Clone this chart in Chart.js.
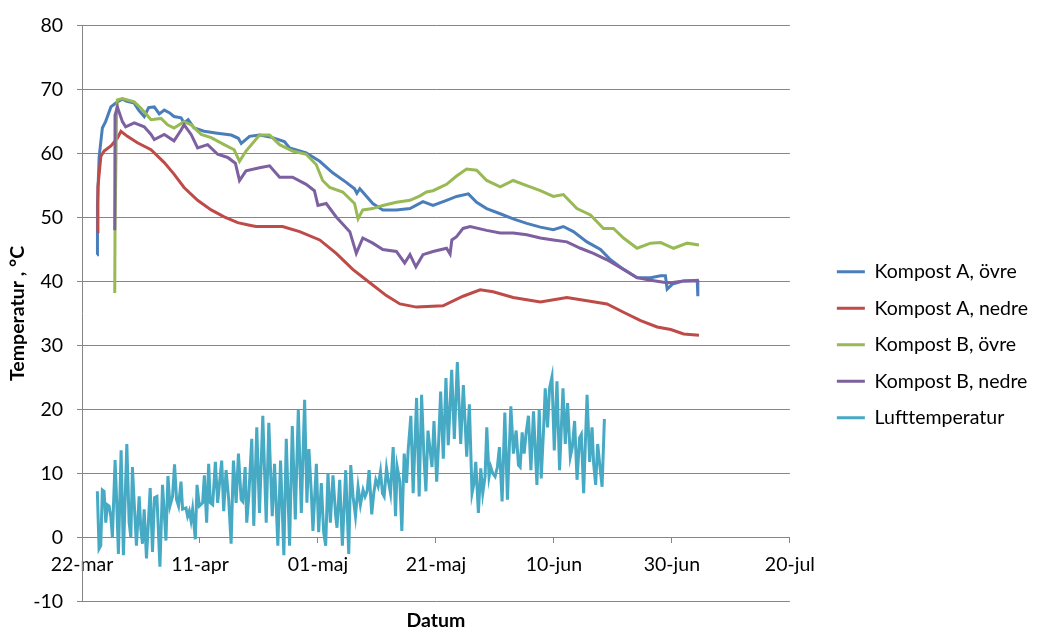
<!DOCTYPE html>
<html>
<head>
<meta charset="utf-8">
<script src="https://cdn.jsdelivr.net/npm/chart.js@4.4.0/dist/chart.umd.min.js"></script>
<style>
  html, body { margin: 0; padding: 0; background: #fff; }
</style>
</head>
<body>
<canvas id="tempChart" width="1038" height="627"></canvas>
<script>
// dagar räknat från 22-mar, temperatur i °C
const xEtiketter = ['22-mar', '11-apr', '01-maj', '21-maj', '10-jun', '30-jun', '20-jul'];
const serieNamn = ['Kompost A, övre', 'Kompost A, nedre', 'Kompost B, övre', 'Kompost B, nedre', 'Lufttemperatur'];

const kompostAOvre = [
  [2.55, 44.2], [2.62, 52], [2.9, 59.4], [3.45, 64], [4.0, 65], [4.9, 67.3], [6.0, 68.1], [6.85, 68.5],
  [7.5, 68.2], [8.85, 67.9], [9.6, 66.8], [10.55, 65.8], [11.3, 67.2], [12.25, 67.3], [13.1, 66.2],
  [13.95, 66.8], [14.8, 66.4], [15.6, 65.8], [16.8, 65.6], [17.3, 64.8], [18.0, 65.3], [19.0, 64],
  [20.7, 63.5], [22.95, 63.2], [25.3, 62.9], [26.5, 62.4], [27.0, 61.6], [28.4, 62.7], [30.1, 62.9],
  [32.3, 62.5], [34.3, 61.9], [35.2, 60.9], [38.0, 60.1], [40.3, 58.8], [42.5, 57], [44.8, 55.5],
  [46.2, 54.5], [46.6, 53.8], [47.1, 54.5], [49.3, 52.2], [51.0, 51.2], [53.3, 51.2], [55.6, 51.4],
  [57.8, 52.5], [59.5, 51.9], [61.8, 52.7], [63.5, 53.3], [65.5, 53.7], [66.9, 52.4], [68.6, 51.4],
  [70.9, 50.6], [73.1, 49.8], [75.4, 49.1], [77.7, 48.5], [79.9, 48.1], [81.6, 48.6], [83.3, 47.8],
  [85.6, 46.2], [87.9, 45], [89.6, 43.4], [91.8, 41.9], [94.1, 40.6], [96.4, 40.6], [98.1, 40.9],
  [98.9, 40.9], [99.2, 38.8], [100.1, 39.6], [102.0, 40.1], [104.3, 40.2], [104.4, 37.7]
];

const kompostANedre = [
  [2.55, 47.8], [2.7, 54.8], [3.2, 59.6], [3.75, 60.4], [4.9, 61.2], [6.0, 62.4], [6.6, 63.5],
  [7.7, 62.7], [9.4, 61.7], [11.7, 60.6], [13.95, 58.6], [15.6, 56.8], [17.3, 54.7], [19.6, 52.7],
  [21.9, 51.2], [24.1, 50.1], [26.4, 49.2], [28.4, 48.8], [29.5, 48.6], [34.0, 48.6], [36.9, 47.8],
  [40.3, 46.5], [43.1, 44.4], [45.9, 41.9], [48.8, 39.8], [51.6, 37.8], [53.9, 36.5], [56.7, 36],
  [61.2, 36.2], [64.6, 37.7], [67.5, 38.7], [69.7, 38.4], [73.1, 37.5], [77.7, 36.8], [82.2, 37.5],
  [85.6, 37], [89.0, 36.5], [91.8, 35.2], [94.7, 33.9], [97.5, 32.9], [99.8, 32.5], [102.0, 31.8],
  [104.6, 31.6]
];

const kompostBOvre = [
  [5.55, 38.2], [5.6, 48], [5.85, 66], [6.0, 68.4], [6.85, 68.6], [8.85, 68.1], [10.0, 67.1],
  [11.7, 65.3], [13.4, 65.5], [14.5, 64.5], [15.6, 64], [17.3, 65], [18.5, 64.5], [20.2, 63],
  [21.9, 62.5], [24.1, 61.4], [25.8, 60.6], [26.7, 58.8], [27.8, 60.4], [30.1, 62.9], [31.8, 62.9],
  [33.5, 61.4], [35.7, 60.4], [38.0, 59.9], [39.7, 58.3], [40.8, 55.8], [42.0, 54.7], [44.2, 54],
  [46.2, 52.2], [46.8, 49.8], [47.6, 51.2], [49.3, 51.4], [51.0, 51.9], [53.3, 52.4], [55.6, 52.7],
  [57.3, 53.4], [58.4, 54], [59.5, 54.2], [61.8, 55.2], [63.5, 56.5], [65.2, 57.6], [66.9, 57.4],
  [68.6, 55.8], [70.9, 54.8], [73.1, 55.8], [75.4, 55], [77.7, 54.2], [79.9, 53.3], [81.6, 53.6],
  [83.9, 51.4], [86.2, 50.4], [88.4, 48.3], [90.1, 48.3], [91.8, 46.8], [94.1, 45.2], [96.4, 46],
  [98.1, 46.1], [100.3, 45.2], [102.6, 46], [104.6, 45.7]
];

const kompostBNedre = [
  [5.55, 48], [5.6, 66], [6.0, 67.3], [6.85, 65], [7.4, 64.2], [8.85, 64.8], [10.55, 64.2],
  [11.7, 63], [12.25, 62.2], [13.95, 63], [15.6, 62], [16.8, 63.7], [17.3, 64.5], [18.5, 63],
  [19.6, 60.9], [21.3, 61.4], [23.0, 59.9], [24.7, 59.4], [26.0, 58.5], [26.7, 55.8], [27.8, 57.3],
  [30.1, 57.8], [31.8, 58.1], [33.5, 56.3], [35.7, 56.3], [38.0, 55.2], [39.4, 54.2], [40.0, 51.9],
  [41.4, 52.2], [43.1, 50.1], [45.4, 47.8], [46.5, 44.4], [47.6, 46.8], [49.3, 46], [51.0, 45],
  [53.3, 44.7], [54.7, 42.9], [55.6, 44.2], [56.6, 42.3], [57.8, 44.2], [59.5, 44.7], [61.8, 45.2],
  [62.4, 44.3], [62.7, 46.5], [63.5, 47], [64.6, 48.3], [65.8, 48.6], [68.6, 48], [70.9, 47.6],
  [73.1, 47.6], [75.4, 47.3], [77.7, 46.8], [79.9, 46.5], [82.2, 46.2], [84.5, 45.2], [86.7, 44.4],
  [89.0, 43.4], [91.8, 41.9], [94.1, 40.6], [96.4, 40.2], [98.6, 39.9], [99.8, 39.8], [102.0, 40.1],
  [104.6, 40.1]
];

const lufttemperatur = [
  [2.60, 7.2], [2.89, -1.8], [3.18, -1.3], [3.45, 7.4], [3.74, 7.2], [4.03, 2.3], [4.30, 5.1],
  [4.59, 4.9], [4.88, 3.3], [5.15, 0], [5.61, 12.1], [5.83, 6.9], [6.17, -2.6], [6.63, 13.6],
  [7.02, -2.8], [7.60, 14.6], [7.99, 2.3], [8.28, 0], [8.55, 11], [8.84, 5.6], [9.23, -1.3],
  [9.69, 6.4], [9.98, 1.3], [10.25, -1], [10.54, 4.4], [10.93, -3.3], [11.56, 7.7], [11.95, -2.3],
  [12.29, 6.2], [12.70, 6.4], [13.21, -4.6], [13.65, 8.2], [14.23, -0.5], [14.57, 9.6], [14.91, 4.9],
  [15.35, 6.4], [15.69, 11.4], [16.03, 5.9], [16.37, 4.9], [16.78, 8.7], [17.05, 4.4], [17.63, 4.6],
  [17.90, 3.3], [18.19, 4.1], [18.48, 2.6], [18.75, 4.4], [19.21, -0.3], [19.50, 8.2], [19.89, 4.9],
  [20.45, 5.4], [20.74, 9.7], [21.13, 2.3], [21.47, 11.5], [21.76, 5.4], [22.15, 5.1], [22.61, 11.8],
  [23.00, 5.4], [23.68, 12], [24.02, 4.1], [24.43, 10.5], [24.87, 5.9], [25.28, -1], [25.67, 12],
  [26.13, 5.4], [26.52, 13.1], [26.98, 5.9], [27.25, 5.6], [27.66, 11], [27.93, 2.3], [28.27, 6.4],
  [28.78, 15.4], [29.12, 1.8], [29.63, 17.2], [30.09, 3.8], [30.65, 19], [31.23, 2.3], [31.67, 17.9],
  [32.25, 3.3], [32.64, 11.5], [33.20, -1.3], [33.66, 12], [34.22, -2.8], [34.63, 15.4], [35.19, -1.3],
  [35.65, 17.4], [36.16, 2.8], [36.67, 20], [37.18, 3.8], [37.74, 21.5], [38.13, 5.4], [38.47, 13.8],
  [38.88, 6.9], [39.15, 1], [39.73, 11.5], [40.12, 0.8], [40.57, 8.5], [40.97, 0.8], [41.31, -1.3],
  [41.70, 10], [42.10, 2.3], [42.55, 9.7], [43.01, 3.3], [43.23, 1.5], [43.69, 9], [44.14, -1.3],
  [44.71, 10.5], [45.22, -2.6], [45.56, 11.3], [45.95, 6.4], [46.36, 3.3], [46.80, 7.9], [47.20, 5.1],
  [47.65, 7.4], [47.99, 6.4], [48.33, 7.2], [48.67, 10.5], [49.12, 3.6], [49.46, 6.9], [49.81, 9],
  [50.20, 8], [50.60, 10.3], [50.94, 6.9], [51.22, 6.4], [51.62, 10.8], [51.96, 8.7], [52.30, 6.9],
  [52.75, 14.1], [53.15, 3.3], [53.43, 11], [53.88, 8.7], [54.22, 1], [54.62, 13.1], [55.02, 8.5],
  [55.29, 13.6], [55.75, 19], [56.14, 6.9], [56.72, 21.8], [57.16, 6.4], [57.57, 22.3], [57.96, 12.8],
  [58.30, 7.2], [58.65, 16.7], [58.99, 13.8], [59.33, 11], [59.67, 18.2], [60.13, 8.7], [60.47, 15.1],
  [60.80, 22.8], [61.25, 12.3], [61.70, 24.9], [62.09, 14.4], [62.67, 26.2], [63.12, 15.4], [63.63, 27.4],
  [64.20, 14.6], [64.65, 23.8], [65.22, 12.6], [65.67, 20.8], [66.12, 6.9], [66.46, 8.5], [66.75, 11.8],
  [67.20, 3.8], [67.60, 10.8], [67.94, 6.9], [68.33, 9.5], [68.62, 17.2], [69.01, 9.5], [69.30, 11],
  [69.64, 10], [70.03, 9.5], [70.42, 11], [70.76, 14.1], [71.22, 5.6], [71.68, 19.5], [72.12, 5.9],
  [72.70, 20.5], [73.14, 13.1], [73.60, 16.7], [73.99, 11.3], [74.28, 11], [74.62, 16.4], [74.96, 13.1],
  [75.30, 16.4], [75.69, 19], [76.10, 10.5], [76.54, 19.7], [77.12, 8.2], [77.51, 20], [77.85, 9.2],
  [78.24, 16.7], [78.53, 23.3], [78.92, 17.2], [79.26, 23.3], [79.67, 25.1], [80.06, 13.6], [80.52, 24.4],
  [80.96, 10.5], [81.54, 23.3], [81.93, 14.6], [82.32, 21], [82.78, 12.6], [83.12, 14.1], [83.51, 18.2],
  [83.92, 9], [84.36, 15.6], [84.65, 16.1], [85.04, 6.9], [85.62, 22.3], [86.06, 11.8], [86.47, 17.2],
  [86.74, 11.5], [87.08, 8.2], [87.42, 14.6], [87.76, 11.5], [88.17, 7.9], [88.56, 18.5]
];

const serier = [kompostAOvre, kompostANedre, kompostBOvre, kompostBNedre, lufttemperatur];
const farger = ['#4A7EBB', '#BE4B48', '#98B954', '#7D60A0', '#46AAC5'];

const typsnitt = 'Lato, "Open Sans", sans-serif';
const gra = '#868686';

const datasets = serier.map(function (serie, i) {
    return {
        label: serieNamn[i],
        data: serie.map(function (p) { return { x: p[0], y: p[1] }; }),
        borderColor: farger[i],
        backgroundColor: farger[i],
        borderWidth: 3,
        pointRadius: 0,
        tension: 0,
        fill: false,
        order: serier.length - i   // senare serier ritas överst
    };
});

const ctx = document.getElementById('tempChart').getContext('2d');

new Chart(ctx, {
    type: 'line',
    data: { datasets: datasets },
    options: {
        responsive: false,
        animation: false,
        layout: { padding: { top: 20, right: 0, bottom: 0, left: 0 } },
        plugins: {
            tooltip: { enabled: false },
            legend: {
                position: 'right',
                align: 'start',
                maxWidth: 222,
                labels: {
                    usePointStyle: true,
                    pointStyle: 'line',
                    pointStyleWidth: 28,
                    padding: 17,
                    color: '#000',
                    font: { family: typsnitt, size: 19.5 },
                    sort: function (a, b) { return a.datasetIndex - b.datasetIndex; }
                },
                title: {
                    display: true,
                    text: ' ',
                    font: { size: 10 },
                    padding: { top: 213, bottom: 0 }
                }
            },
            title: {
                display: true,
                text: 'Datum',
                position: 'bottom',
                fullSize: false,
                color: '#000',
                font: { family: typsnitt, size: 19.5, weight: 'bold', lineHeight: 0.5 },
                padding: { top: 15, bottom: 0 }
            }
        },
        scales: {
            x: {
                type: 'linear',
                position: { y: 0 },
                min: 0,
                max: 120,
                grid: { drawOnChartArea: false, drawTicks: true, tickLength: 5, color: gra },
                border: { display: true, color: gra },
                ticks: {
                    stepSize: 20,
                    padding: 11,
                    maxRotation: 0,
                    color: '#000',
                    font: { family: typsnitt, size: 19.5 },
                    callback: function (value) { return xEtiketter[value / 20]; }
                }
            },
            y: {
                min: -10,
                max: 80,
                afterFit: function (scale) { scale.width = 82; },
                grid: { color: gra, tickLength: 5 },
                border: { display: true, color: gra },
                ticks: {
                    stepSize: 10,
                    padding: 14,
                    color: '#000',
                    font: { family: typsnitt, size: 19.5 }
                },
                title: {
                    display: true,
                    text: 'Temperatur , °C',
                    color: '#000',
                    font: { family: typsnitt, size: 19.5, weight: 'bold' },
                    padding: { top: 6, bottom: 0 }
                }
            },
            luft: {
                type: 'linear',
                position: 'right',
                display: true,
                afterFit: function (scale) { scale.width = 30; },
                grid: { display: false, drawTicks: false },
                border: { display: false },
                ticks: { display: false }
            }
        }
    }
});
</script>
</body>
</html>
